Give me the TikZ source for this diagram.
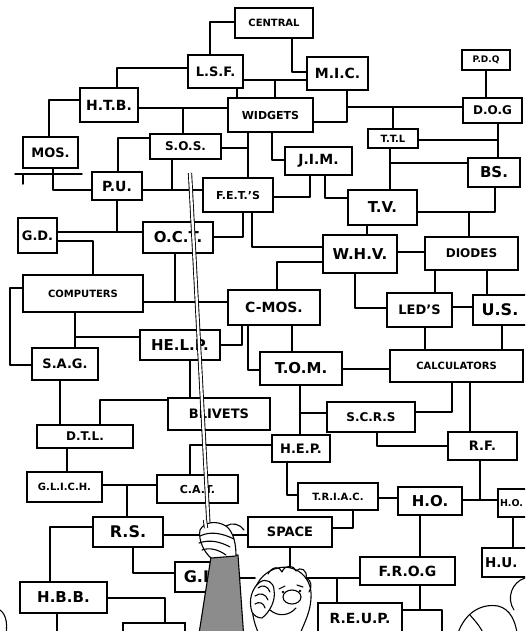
\documentclass[tikz,border=0pt]{standalone}
\usepackage{fontspec}
\setmainfont{DejaVu Sans}
\tikzset{
  box/.style={draw, line width=1.8pt, fill=white, inner sep=0pt,
              font=\bfseries\fontsize{12}{12}\selectfont},
  fs/.style={font=\bfseries\fontsize{#1}{#1}\selectfont},
  wire/.style={line width=1.5pt, line cap=round, line join=round},
  sketch/.style={line width=1.1pt, line cap=round, line join=round},
}
% \drawbox[options]{name}{x1}{y1}{x2}{y2}{label}
\newcommand\drawbox[7][]{%
  \node[box, minimum width={(#5-#3)*1pt}, minimum height={(#6-#4)*1pt}, #1]
    (#2) at ({(#3+#5)/2},{(#4+#6)/2}) {#7};}
\begin{document}
\begin{tikzpicture}[x=1pt,y=-1pt]
\useasboundingbox (0,0) rectangle (525,631);
\clip (0,0) rectangle (525,631);
\fill[white] (0,0) rectangle (525,631);

% ---- boxes ----
\drawbox[fs=10]{central}{235}{8}{313}{38}{CENTRAL}
\drawbox[fs=13]{lsf}{188}{55}{243}{88}{L.S.F.}
\drawbox[fs=14]{mic}{307}{57}{368}{90}{M.I.C.}
\drawbox[fs=14]{htb}{80}{88}{138}{122}{H.T.B.}
\drawbox[fs=11]{widgets}{228}{98}{313}{132}{WIDGETS}
\drawbox[fs=12]{sos}{150}{134}{221}{159}{S.O.S.}
\drawbox[fs=13]{mos}{23}{137}{78}{168}{MOS.}
\drawbox[fs=14]{pu}{92}{172}{142}{200}{P.U.}
\drawbox[fs=11]{fets}{203}{178}{273}{212}{F.E.T.'S}
\drawbox[fs=14]{jim}{285}{147}{352}{175}{J.I.M.}
\drawbox[fs=10]{ttl}{368}{129}{418}{148}{T.T.L}
\drawbox[fs=9]{pdq}{462}{50}{510}{70}{P.D.Q}
\drawbox[fs=12]{dog}{463}{98}{522}{123}{D.O.G}
\drawbox[fs=15]{bs}{468}{158}{520}{187}{BS.}
\drawbox[fs=15]{tv}{348}{190}{417}{225}{T.V.}
\drawbox[fs=15]{whv}{323}{235}{397}{273}{W.H.V.}
\drawbox[fs=12]{diodes}{425}{237}{518}{270}{DIODES}
\drawbox[fs=13]{gd}{18}{218}{57}{253}{G.D.}
\drawbox[fs=15]{oct}{143}{222}{213}{253}{O.C.T.}
\drawbox[fs=10]{computers}{23}{275}{143}{312}{COMPUTERS}
\drawbox[fs=14]{cmos}{228}{290}{320}{325}{C-MOS.}
\drawbox[fs=13]{leds}{387}{293}{452}{327}{LED'S}
\drawbox[fs=16]{us}{473}{295}{527}{325}{U.S.}
\drawbox[fs=15]{help}{140}{330}{220}{360}{HE.L.P.}
\drawbox[fs=13]{sag}{32}{348}{98}{380}{S.A.G.}
\drawbox[fs=15]{tom}{260}{352}{342}{385}{T.O.M.}
\drawbox[fs=10]{calc}{390}{350}{523}{382}{CALCULATORS}
\drawbox[fs=13]{blivets}{168}{398}{270}{430}{BLIVETS}
\drawbox[fs=12]{scrs}{327}{402}{415}{432}{S.C.R.S}
\drawbox[fs=12]{dtl}{37}{425}{133}{448}{D.T.L.}
\drawbox[fs=13]{hep}{272}{435}{330}{462}{H.E.P.}
\drawbox[fs=13]{rf}{448}{432}{517}{460}{R.F.}
\drawbox[fs=10]{glich}{27}{472}{102}{502}{G.L.I.C.H.}
\drawbox[fs=11]{cat}{157}{475}{238}{503}{C.A.T.}
\drawbox[fs=10]{triac}{298}{483}{378}{510}{T.R.I.A.C.}
\drawbox[fs=15]{ho}{398}{487}{462}{515}{H.O.}
\drawbox[fs=9.5, text width=46pt, align=left]{hox}{498}{489}{548}{517}{H.O.}
\drawbox[fs=16]{rs}{93}{517}{163}{547}{R.S.}
\drawbox[fs=13]{space}{248}{517}{332}{547}{SPACE}
\drawbox[fs=16]{gl}{175}{562}{222}{592}{G.L}
\drawbox[fs=13.5, text width=52pt, align=left]{hu}{482}{548}{540}{577}{H.U.}
\drawbox[fs=14]{frog}{360}{557}{455}{585}{F.R.O.G}
\drawbox[fs=15]{hbb}{20}{582}{107}{613}{H.B.B.}
\drawbox[fs=14]{reup}{318}{603}{402}{634}{R.E.U.P.}
\drawbox{lowbox}{123}{623}{185}{650}{}

% ---- connectors ----
\begin{scope}[wire]
\draw (central.west |- 0,22) -| (210,0 |- lsf.north);
\draw (292,0 |- central.south) |- (mic.west |- 0,72);
\draw (lsf.west |- 0,68) -| (117,0 |- htb.north);
\draw (lsf.east |- 0,80) -- (mic.west |- 0,80);
\draw (275,80) -- (275,0 |- widgets.north);
\draw (237,0 |- lsf.south) -- (237,0 |- widgets.north);
\draw (htb.east |- 0,108) -- (widgets.west |- 0,108);
\draw (183,108) -- (183,0 |- sos.north);
\draw (htb.west |- 0,100) -| (49,0 |- mos.north);
\draw (15,174) -- (82,174);
\draw (23,174) -- (23,184);
\draw (53,0 |- mos.south) |- (pu.west |- 0,190);
\draw (sos.west |- 0,138) -| (118,0 |- pu.north);
\draw (172,0 |- sos.south) -- (172,190);
\draw (pu.east |- 0,190) -- (fets.west |- 0,190);
\draw (sos.east |- 0,148) -- (248,148);
\draw (248,0 |- widgets.south) -- (248,0 |- fets.north);
\draw (272,0 |- widgets.south) |- (jim.west |- 0,160);
\draw (widgets.east |- 0,122) -| (347,0 |- mic.south);
\draw (347,107) -- (dog.west |- 0,107);
\draw (393,107) -- (393,0 |- ttl.north);
\draw (486,0 |- pdq.south) -- (486,0 |- dog.north);
\draw (ttl.east |- 0,140) -- (498,140);
\draw (498,0 |- dog.south) -- (498,0 |- bs.north);
\draw (390,0 |- ttl.south) -- (390,0 |- tv.north);
\draw (390,163) -- (bs.west |- 0,163);
\draw (310,0 |- jim.south) |- (fets.east |- 0,197);
\draw (325,0 |- jim.south) |- (tv.west |- 0,198);
\draw (243,0 |- fets.south) |- (oct.east |- 0,237);
\draw (252,0 |- fets.south) |- (whv.west |- 0,247);
\draw (495,0 |- bs.south) |- (tv.east |- 0,212);
\draw (469,212) -- (469,0 |- diodes.north);
\draw (367,0 |- tv.south) -- (367,0 |- whv.north);
\draw (whv.east |- 0,252) -- (diodes.west |- 0,252);
\draw (whv.west |- 0,262) -| (277,0 |- cmos.north);
\draw (355,0 |- whv.south) |- (leds.west |- 0,308);
\draw (435,0 |- diodes.south) -- (435,0 |- leds.north);
\draw (487,0 |- diodes.south) -- (487,0 |- us.north);
\draw (leds.east |- 0,307) -- (us.west |- 0,307);
\draw (425,0 |- leds.south) -- (425,0 |- calc.north);
\draw (502,0 |- us.south) -- (502,0 |- calc.north);
\draw (292,0 |- cmos.south) -- (292,0 |- tom.north);
\draw (248,0 |- cmos.south) |- (tom.west |- 0,370);
\draw (242,0 |- cmos.south) |- (help.east |- 0,345);
\draw (tom.east |- 0,369) -- (calc.west |- 0,369);
\draw (300,0 |- tom.south) -- (300,0 |- hep.north);
\draw (300,413) -- (scrs.west |- 0,413);
\draw (scrs.east |- 0,412) -| (452,0 |- calc.south);
\draw (470,0 |- calc.south) -- (470,0 |- rf.north);
\draw (377,0 |- scrs.south) |- (rf.west |- 0,446);
\draw (hep.west |- 0,445) -| (190,0 |- cat.north);
\draw (blivets.west |- 0,400) -| (100,0 |- dtl.north);
\draw (60,0 |- sag.south) -- (60,0 |- dtl.north);
\draw (190,0 |- help.south) -- (190,0 |- blivets.north);
\draw (help.west |- 0,337) -| (75,0 |- computers.south);
\draw (75,337) -- (75,0 |- sag.north);
\draw (computers.east |- 0,302) -- (cmos.west |- 0,302);
\draw (175,302) -- (175,0 |- oct.south);
\draw (computers.west |- 0,288) -| (10,365) -- (sag.west |- 0,365);
\draw (gd.east |- 0,232) -- (oct.west |- 0,232);
\draw (117,232) -- (117,0 |- pu.south);
\draw (gd.east |- 0,241) -| (93,0 |- computers.north);
\draw (67,0 |- dtl.south) -- (67,0 |- glich.north);
\draw (glich.east |- 0,485) -- (cat.west |- 0,485);
\draw (127,485) -- (127,0 |- rs.north);
\draw (rs.west |- 0,527) -| (50,0 |- hbb.north);
\draw (rs.east |- 0,535) -- (space.west |- 0,535);
\draw (133,0 |- rs.south) |- (gl.west |- 0,573);
\draw (hbb.east |- 0,598) -| (165,0 |- lowbox.north);
\draw (57,0 |- hbb.south) -- (57,640);
\draw (287,0 |- hep.south) |- (triac.west |- 0,495);
\draw (triac.east |- 0,498) -- (ho.west |- 0,498);
\draw (353,0 |- triac.south) |- (space.east |- 0,528);
\draw (420,0 |- ho.south) -- (420,0 |- frog.north);
\draw (ho.east |- 0,500) -- (hox.west |- 0,500);
\draw (480,500) -- (480,0 |- rf.south);
\draw (513,0 |- hox.south) -- (513,0 |- hu.north);
\draw (290,0 |- space.south) -- (290,572);
\draw (gl.east |- 0,578) -- (255,578);
\draw (303,578) -- (frog.west |- 0,578);
\draw (337,578) -- (337,0 |- reup.north);
\draw (420,0 |- frog.south) |- (reup.east |- 0,610);
\draw (420,610) -- (442,610) -- (442,640);
\end{scope}

% ---- the pointer stick ----
\draw[line width=0.9pt, double=white, double distance=2.4pt] (190,173) -- (209,535);

% ---- the arm holding the pointer ----
\draw[sketch, fill=black!45] (211,557) -- (238,555) -- (244,640) -- (198,640) -- cycle;
\draw[sketch, fill=white] (200,530) .. controls (204,522) and (216,520) .. (226,526)
  .. controls (234,532) and (236,545) .. (236,556) -- (211,558)
  .. controls (204,552) and (198,540) .. cycle;
\draw[sketch] (200,536) .. controls (210,531) and (222,533) .. (234,539);
\draw[sketch] (199,543) .. controls (210,539) and (221,542) .. (230,547);
\draw[sketch] (202,550) .. controls (210,547) and (219,550) .. (226,555);
\draw[sketch] (226,526) .. controls (232,522) and (240,524) .. (244,530);
\draw[line width=0.9pt, double=white, double distance=2.4pt] (205,520) -- (206,528);

% ---- the speaker's head ----
\draw[sketch, fill=white] (262,640) .. controls (246,612) and (250,582) .. (270,571)
  .. controls (290,560) and (313,574) .. (311,598)
  .. controls (310,616) and (302,626) .. (298,640);
\draw[sketch] (268,574) .. controls (272,566) and (280,566) .. (282,572)
  .. controls (285,564) and (294,565) .. (296,571)
  .. controls (300,566) and (308,570) .. (306,578)
  .. controls (312,580) and (312,588) .. (309,592);
\draw[sketch, fill=white] (292,597) ellipse (9pt and 7pt);
\draw[sketch] (279,589) -- (285,586);
\draw[sketch] (297,585) -- (303,587);
\fill (283,592) circle (1.3pt);
\fill (300,591) circle (1.3pt);
\draw[sketch] (270,610) .. controls (278,617) and (289,616) .. (296,608);
% the hand at the face
\draw[sketch, fill=white] (252,612) .. controls (248,600) and (252,588) .. (260,582)
  .. controls (266,578) and (274,582) .. (274,590)
  .. controls (276,600) and (270,612) .. (262,618) .. controls (258,618) and (254,616) .. cycle;
\draw[sketch] (258,588) .. controls (262,584) and (268,586) .. (270,592);
\draw[sketch] (255,596) .. controls (260,592) and (266,594) .. (268,600);
\draw[sketch] (255,604) .. controls (259,601) and (264,603) .. (265,608);

% ---- figures at the lower edge ----
\draw[sketch] (525,578) .. controls (512,582) and (506,598) .. (514,610);
\draw[sketch] (456,640) .. controls (462,614) and (480,603) .. (498,606)
  .. controls (510,609) and (516,620) .. (518,640);
\draw[sketch] (470,615) .. controls (476,622) and (482,628) .. (486,640);
\draw[sketch] (0,610) .. controls (7,615) and (8,626) .. (5,640);
\end{tikzpicture}
\end{document}
